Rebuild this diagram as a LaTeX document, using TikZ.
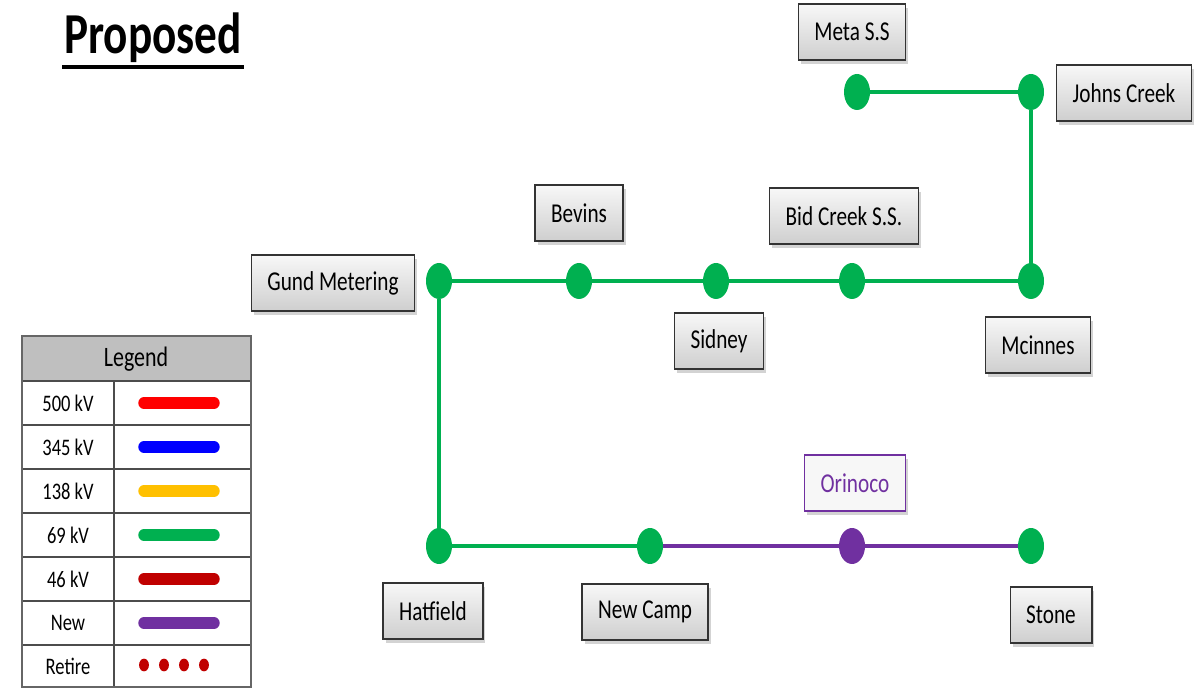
\documentclass[tikz,border=0pt]{standalone}
\usepackage{fontspec}
\setmainfont{Carlito}[FakeStretch=0.78]
\usetikzlibrary{positioning,shapes.geometric,shadows}
\definecolor{kvgreen}{HTML}{00B050}
\definecolor{kvred}{HTML}{FF0000}
\definecolor{kvblue}{HTML}{0000FF}
\definecolor{kvorange}{HTML}{FFC000}
\definecolor{kvdarkred}{HTML}{C00000}
\definecolor{kvnew}{HTML}{7030A0}
\begin{document}
\begin{tikzpicture}[x=0.02cm, y=-0.02cm,
  station/.style = {draw=black!80, thick, top color=gray!6, bottom color=gray!38,
    minimum height=1.12cm, inner xsep=0.32cm, font=\fontsize{15.5}{18}\selectfont,
    drop shadow={opacity=0.35, shadow xshift=1.5pt, shadow yshift=-2pt}},
  newstation/.style = {station, draw=kvnew, top color=gray!6, bottom color=gray!6, text=kvnew},
  bus/.style = {ellipse, fill=kvgreen, minimum width=0.52cm, minimum height=0.72cm, inner sep=0},
  newbus/.style = {bus, fill=kvnew},
  line69/.style = {kvgreen, line width=2.8pt},
  linenew/.style = {kvnew, line width=2.8pt},
  legtext/.style = {font=\fontsize{13.5}{15}\selectfont},
  swatch/.style = {line width=6.5pt, line cap=round}]
\useasboundingbox (0,0) rectangle (1203,688);
% title
\node[font=\bfseries\fontsize{33}{36}\selectfont, inner sep=1pt] (title) at (153,38) {Proposed};
\draw[line width=2.4pt] ([yshift=-1pt]title.south west) -- ([yshift=-1pt]title.south east);
% buses
\node[bus] (meta) at (857,92) {};
\node[bus] (johns) at (1031,92) {};
\node[bus] (gund) at (439,281) {};
\node[bus] (bevins) at (579,281) {};
\node[bus] (sidney) at (716,281) {};
\node[bus] (bidcreek) at (852,281) {};
\node[bus] (mcinnes) at (1031,281) {};
\node[bus] (hatfield) at (439,546) {};
\node[bus] (newcamp) at (650,546) {};
\node[newbus] (orinoco) at (852,546) {};
\node[bus] (stone) at (1031,546) {};
% labels
\node[station] (metabox) at (852,32) {Meta S.S};
\node[station] (johnsbox) at (1124,93) {Johns Creek};
\node[station] (bevinsbox) at (579,213) {Bevins};
\node[station] (bidbox) at (844,216) {Bid Creek S.S.};
\node[station] (gundbox) at (333,283) {Gund Metering};
\node[station] (sidneybox) at (719,341) {Sidney};
\node[station] (mcinnesbox) at (1038,345) {Mcinnes};
\node[newstation] (orinocobox) at (855,483) {Orinoco};
\node[station] (hatfieldbox) at (433,611) {Hatfield};
\node[station] (newcampbox) at (645,612) {New Camp};
\node[station] (stonebox) at (1051,615) {Stone};
% lines
\draw[line69] (meta) -- (johns);
\draw[line69] (johns) -- (mcinnes);
\draw[line69] (gund) -- (bevins);
\draw[line69] (bevins) -- (sidney);
\draw[line69] (sidney) -- (bidcreek);
\draw[line69] (bidcreek) -- (mcinnes);
\draw[line69] (gund) -- (hatfield);
\draw[line69] (hatfield) -- (newcamp);
\draw[linenew] (newcamp) -- (orinoco);
\draw[linenew] (orinoco) -- (stone);
% legend
\fill[gray!50] (22,336) rectangle (251,381);
\node[font=\fontsize{16}{18}\selectfont] (legend) at (136,359) {Legend};
\foreach \lbl/\col [count=\i] in {500 kV/kvred, 345 kV/kvblue, 138 kV/kvorange, 69 kV/kvgreen, 46 kV/kvdarkred, New/kvnew} {
  \node[legtext] (leg\i) at (68,359+44*\i) {\lbl};
  \draw[swatch, \col] (144,359+44*\i) -- (214,359+44*\i);
  \draw[black!70, thick] (22,381+44*\i-44) -- (251,381+44*\i-44);
}
\draw[black!70, thick] (22,645) -- (251,645);
\node[legtext] (leg7) at (68,666) {Retire};
\foreach \x in {144,164,184,204}
  \fill[kvdarkred] (\x,665) ellipse (2.8pt and 3.6pt);
\draw[black!70, thick] (114,381) -- (114,687);
\draw[black!60, thick] (22,336) rectangle (251,687);
\end{tikzpicture}
\end{document}
